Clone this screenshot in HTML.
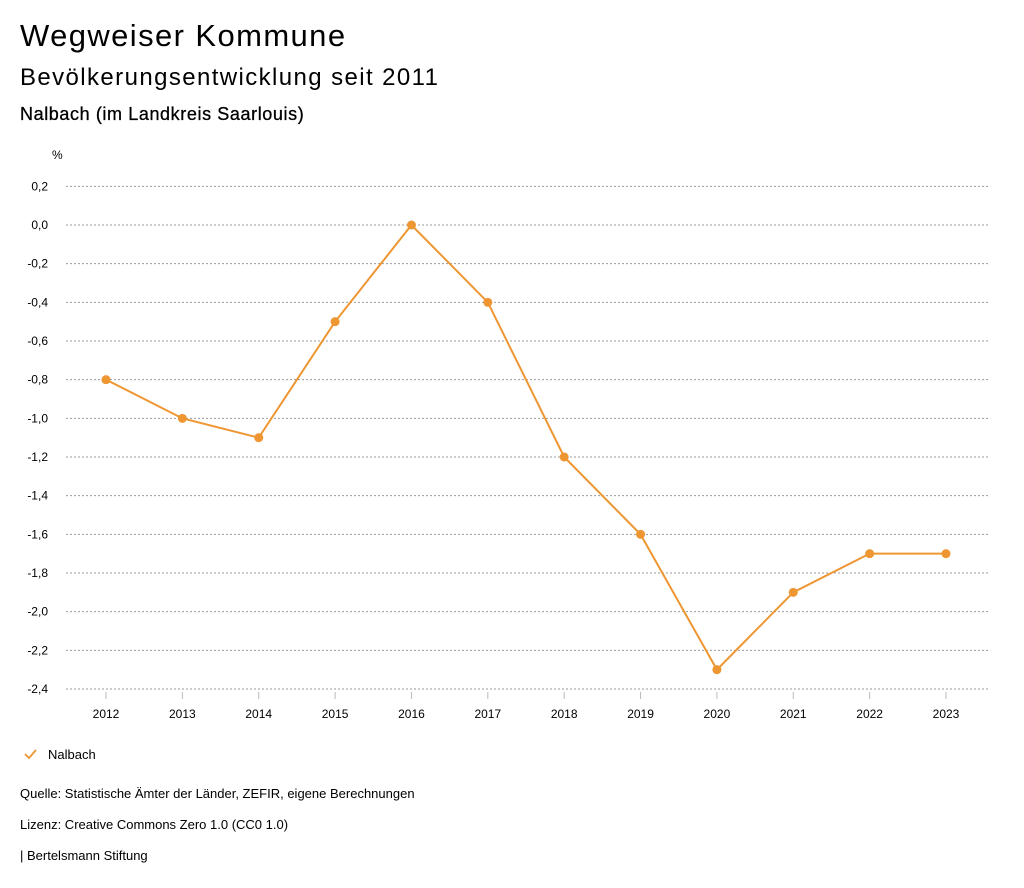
<!DOCTYPE html>
<html><head><meta charset="utf-8"><style>
body{margin:0;width:1024px;height:888px;background:#fff;font-family:"Liberation Sans",sans-serif;color:#000;overflow:hidden}
.t{position:absolute;left:20px;white-space:nowrap}
</style></head><body>
<div class="t" style="top:18px;font-size:31px;letter-spacing:1.4px">Wegweiser Kommune</div>
<div class="t" style="top:64px;font-size:24px;letter-spacing:1.4px">Bevölkerungsentwicklung seit 2011</div>
<div class="t" style="top:104px;font-size:18px;letter-spacing:0.6px;font-weight:500;-webkit-text-stroke:0.3px #000">Nalbach (im Landkreis Saarlouis)</div>
<svg id="chart" width="1024" height="888" style="position:absolute;left:0;top:0"></svg>
<div class="t" style="top:786px;font-size:13px">Quelle: Statistische Ämter der Länder, ZEFIR, eigene Berechnungen</div>
<div class="t" style="top:817px;font-size:13px">Lizenz: Creative Commons Zero 1.0 (CC0 1.0)</div>
<div class="t" style="top:848px;font-size:13px">| Bertelsmann Stiftung</div>
<script>
const years=["2012","2013","2014","2015","2016","2017","2018","2019","2020","2021","2022","2023"];
const values=[-0.8,-1.0,-1.1,-0.5,0.0,-0.4,-1.2,-1.6,-2.3,-1.9,-1.7,-1.7];
const yTicks=[0.2,0,-0.2,-0.4,-0.6,-0.8,-1.0,-1.2,-1.4,-1.6,-1.8,-2.0,-2.2,-2.4];
const svg=document.getElementById('chart');
const NS='http://www.w3.org/2000/svg';
const C='#ee9632';
function y(v){return 225+(0-v)/0.2*38.667;}
function x(i){return 106+i*(946-106)/(years.length-1);}
function mk(t,a,txt){const e=document.createElementNS(NS,t);for(const k in a)e.setAttribute(k,a[k]);if(txt!==undefined)e.textContent=txt;svg.appendChild(e);return e;}
let u=mk('text',{x:52,y:159,'font-size':12,fill:'#000'},'%');


yTicks.forEach(v=>{
 const g=mk('line',{x1:66,x2:990,y1:y(v),y2:y(v),stroke:'#999','stroke-dasharray':'2,2','stroke-width':1});
 
 
 const l=mk('text',{x:48,y:y(v)+4,'font-size':12,'text-anchor':'end',fill:'#000'},v.toFixed(1).replace('.',',').replace('-0,0','0,0'));
 
 
});
years.forEach((yr,i)=>{
 const t=mk('line',{x1:x(i),x2:x(i),y1:692,y2:699,stroke:'#bbb','stroke-width':1});
 
 
 const l=mk('text',{x:x(i),y:718,'font-size':12,'text-anchor':'middle',fill:'#000'},yr);
 
 
});
const p=mk('polyline',{points:values.map((v,i)=>x(i)+','+y(v)).join(' '),fill:'none',stroke:C,'stroke-width':2});


values.forEach((v,i)=>{
 const c=mk('circle',{cx:x(i),cy:y(v),r:4.5,fill:C});
 
 
});
const ck=mk('polyline',{points:'25,754 29,758 36,750',fill:'none',stroke:C,'stroke-width':1.8});


const lt=mk('text',{x:48,y:759,'font-size':13,fill:'#000'},'Nalbach');


</script>
</body></html>
